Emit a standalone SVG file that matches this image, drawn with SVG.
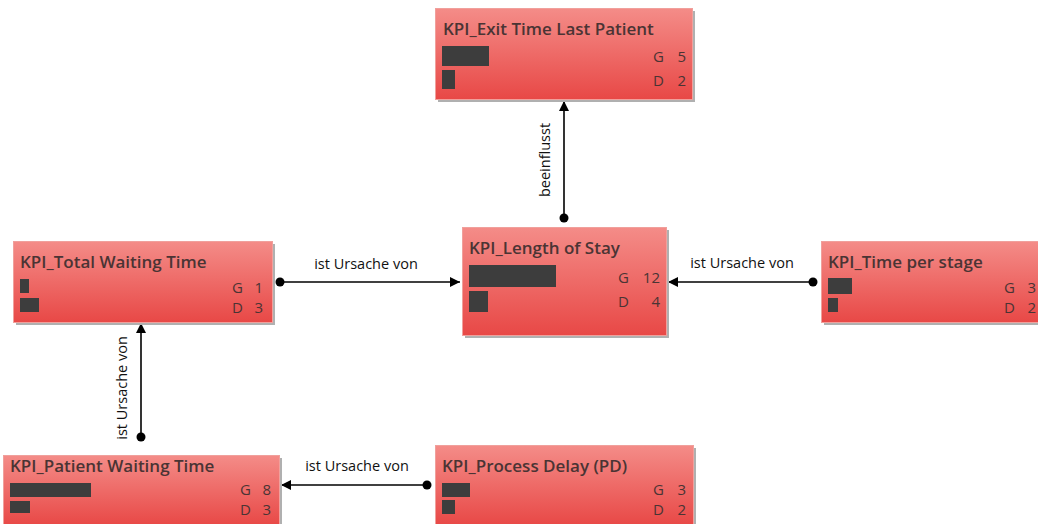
<svg xmlns="http://www.w3.org/2000/svg" width="1038" height="524" viewBox="0 0 1038 524">
<defs>
<linearGradient id="g" x1="0" y1="0" x2="0" y2="1">
<stop offset="0" stop-color="#f48c88"/>
<stop offset="1" stop-color="#e84846"/>
</linearGradient>
<marker id="arr" viewBox="0 0 10 10" refX="10" refY="5" markerWidth="10" markerHeight="10" markerUnits="userSpaceOnUse" orient="auto">
<path d="M0,0 L10,5 L0,10 z" fill="#000"/>
</marker>
<marker id="dot" viewBox="0 0 10 10" refX="5" refY="5" markerWidth="10" markerHeight="10" markerUnits="userSpaceOnUse">
<circle cx="5" cy="5" r="4.5" fill="#000"/>
</marker>
</defs>
<style>
.box{fill:url(#g);stroke:#f0a09c;stroke-width:1}
.sh{fill:#b0b0b0}
.t{font-family:"Open Sans",sans-serif;font-weight:600;font-size:17px;fill:#4a3434}
.n{font-family:"Open Sans",sans-serif;font-size:15px;fill:#4a3434}
.bar{fill:#3d3d3d}
.c{stroke:#000;stroke-width:1.6;fill:none;marker-start:url(#dot);marker-end:url(#arr)}
.l{font-family:"Open Sans",sans-serif;font-size:14.5px;fill:#111}
</style>
<g id="connectors">
<line class="c" x1="564" y1="218" x2="564" y2="101"/>
<text class="l" transform="translate(550,160) rotate(-90)" text-anchor="middle">beeinflusst</text>
<line class="c" x1="280" y1="282" x2="460" y2="282"/>
<text class="l" x="366" y="269" text-anchor="middle">ist Ursache von</text>
<line class="c" x1="813" y1="282" x2="668" y2="282"/>
<text class="l" x="742" y="268" text-anchor="middle">ist Ursache von</text>
<line class="c" x1="141" y1="437" x2="141" y2="323"/>
<text class="l" transform="translate(127,388) rotate(-90)" text-anchor="middle">ist Ursache von</text>
<line class="c" x1="427" y1="485" x2="281" y2="485"/>
<text class="l" x="357" y="471" text-anchor="middle">ist Ursache von</text>
</g>
<g id="n-exit">
<rect class="sh" x="438" y="11" width="257" height="91"/>
<rect class="box" x="435.5" y="8.5" width="257" height="91"/>
<text class="t" x="443" y="35">KPI_Exit Time Last Patient</text>
<rect class="bar" x="442" y="46" width="47" height="20"/>
<rect class="bar" x="442" y="70" width="13" height="19"/>
<text class="n" x="653" y="62">G</text><text class="n" x="686" y="62" text-anchor="end">5</text>
<text class="n" x="653" y="86">D</text><text class="n" x="686" y="86" text-anchor="end">2</text>
</g>
<g id="n-total">
<rect class="sh" x="16" y="244" width="259" height="81"/>
<rect class="box" x="13.5" y="241.5" width="259" height="81"/>
<text class="t" x="20" y="268">KPI_Total Waiting Time</text>
<rect class="bar" x="20" y="279" width="9" height="14"/>
<rect class="bar" x="20" y="298" width="19" height="14"/>
<text class="n" x="232" y="293">G</text><text class="n" x="263" y="293" text-anchor="end">1</text>
<text class="n" x="232" y="313">D</text><text class="n" x="263" y="313" text-anchor="end">3</text>
</g>
<g id="n-los">
<rect class="sh" x="465" y="230" width="204" height="108"/>
<rect class="box" x="462.5" y="227.5" width="204" height="108"/>
<text class="t" x="469" y="254">KPI_Length of Stay</text>
<rect class="bar" x="469" y="265" width="87" height="22"/>
<rect class="bar" x="469" y="291" width="19" height="21"/>
<text class="n" x="618" y="283">G</text><text class="n" x="660" y="283" text-anchor="end">12</text>
<text class="n" x="618" y="307">D</text><text class="n" x="660" y="307" text-anchor="end">4</text>
</g>
<g id="n-stage">
<rect class="sh" x="824" y="244" width="220" height="81"/>
<rect class="box" x="821.5" y="241.5" width="220" height="81"/>
<text class="t" x="828" y="268">KPI_Time per stage</text>
<rect class="bar" x="828" y="278" width="24" height="16"/>
<rect class="bar" x="828" y="298" width="10" height="14"/>
<text class="n" x="1004" y="293">G</text><text class="n" x="1036" y="293" text-anchor="end">3</text>
<text class="n" x="1004" y="313">D</text><text class="n" x="1036" y="313" text-anchor="end">2</text>
</g>
<g id="n-patient">
<rect class="sh" x="6" y="458" width="276" height="70"/>
<rect class="box" x="3.5" y="455.5" width="276" height="70"/>
<text class="t" x="10" y="472">KPI_Patient Waiting Time</text>
<rect class="bar" x="10" y="483" width="81" height="14"/>
<rect class="bar" x="10" y="501" width="20" height="12"/>
<text class="n" x="240" y="495">G</text><text class="n" x="271" y="495" text-anchor="end">8</text>
<text class="n" x="240" y="515">D</text><text class="n" x="271" y="515" text-anchor="end">3</text>
</g>
<g id="n-delay">
<rect class="sh" x="438" y="448" width="258" height="80"/>
<rect class="box" x="435.5" y="445.5" width="258" height="80"/>
<text class="t" x="442" y="472">KPI_Process Delay (PD)</text>
<rect class="bar" x="442" y="483" width="28" height="14"/>
<rect class="bar" x="442" y="500" width="13" height="14"/>
<text class="n" x="653" y="495">G</text><text class="n" x="686" y="495" text-anchor="end">3</text>
<text class="n" x="653" y="515">D</text><text class="n" x="686" y="515" text-anchor="end">2</text>
</g>
</svg>
